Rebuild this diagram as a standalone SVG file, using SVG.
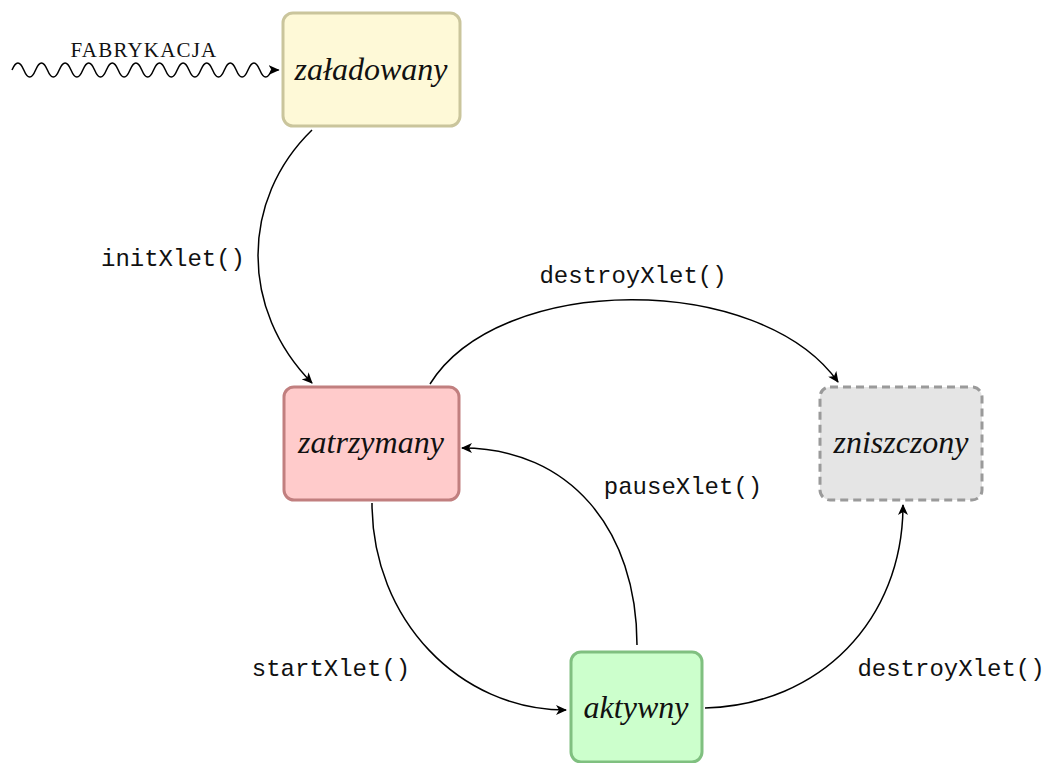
<svg xmlns="http://www.w3.org/2000/svg" width="1048" height="763" viewBox="0 0 1048 763">
<style>
.node rect{stroke-width:3}
.lbl{font-family:"Liberation Serif",serif;font-style:italic;font-size:32px;fill:#111;text-anchor:middle}
.mono{font-family:"Liberation Mono","DejaVu Sans Mono",monospace;font-size:24px;fill:#111;text-anchor:middle}
.edge{fill:none;stroke:#000;stroke-width:1.5}
</style>
<defs>
<marker id="arr" viewBox="0 0 12 10" refX="10" refY="5" markerWidth="12" markerHeight="10" markerUnits="userSpaceOnUse" orient="auto">
<path d="M0,0 L11,5 L0,10 L3,5 Z" fill="#000"/>
</marker>
</defs>
<rect width="1048" height="763" fill="#fff"/>
<g id="connectors">
<path class="edge" marker-end="url(#arr)" d="M12,70 q5.9,-14 11.8,0 t11.8,0 t11.8,0 t11.8,0 t11.8,0 t11.8,0 t11.8,0 t11.8,0 t11.8,0 t11.8,0 t11.8,0 t11.8,0 t11.8,0 t11.8,0 t11.8,0 t11.8,0 t11.8,0 t11.8,0 t11.8,0 t11.8,0 t11.8,0 t11.8,0 l7,0"/>
<path class="edge" marker-end="url(#arr)" d="M312,130 C240,200 240,310 312,383"/>
<path class="edge" marker-end="url(#arr)" d="M430,384 C500,272 760,272 838,382"/>
<path class="edge" marker-end="url(#arr)" d="M637,645 C637,530 570,448 462,448"/>
<path class="edge" marker-end="url(#arr)" d="M372,503 C372,620 460,710 566,710"/>
<path class="edge" marker-end="url(#arr)" d="M705,708 C820,705 903,620 903,505"/>
<text x="144" y="57" font-family="Liberation Serif,serif" font-size="21" letter-spacing="1.2" text-anchor="middle" fill="#111">FABRYKACJA</text>
<text class="mono" x="173" y="266">initXlet()</text>
<text class="mono" x="633" y="283">destroyXlet()</text>
<text class="mono" x="683" y="494">pauseXlet()</text>
<text class="mono" x="331" y="676">startXlet()</text>
<text class="mono" x="951" y="676">destroyXlet()</text>
</g>
<g id="zaladowany" class="node">
<rect x="283" y="13" width="177" height="113" rx="10" fill="#fef9d7" stroke="#cac59c"/>
<text class="lbl" x="371" y="80">załadowany</text>
</g>
<g id="zatrzymany" class="node">
<rect x="284" y="387" width="175" height="113" rx="10" fill="#ffcbcb" stroke="#c17f7f"/>
<text class="lbl" x="371" y="453">zatrzymany</text>
</g>
<g id="zniszczony" class="node">
<rect x="820" y="387" width="162" height="113" rx="10" fill="#e5e5e5" stroke="#9a9a9a" stroke-dasharray="8,5"/>
<text class="lbl" x="901" y="453">zniszczony</text>
</g>
<g id="aktywny" class="node">
<rect x="571" y="652" width="131" height="110" rx="10" fill="#ccffcc" stroke="#80c080"/>
<text class="lbl" x="636" y="718">aktywny</text>
</g>
</svg>
